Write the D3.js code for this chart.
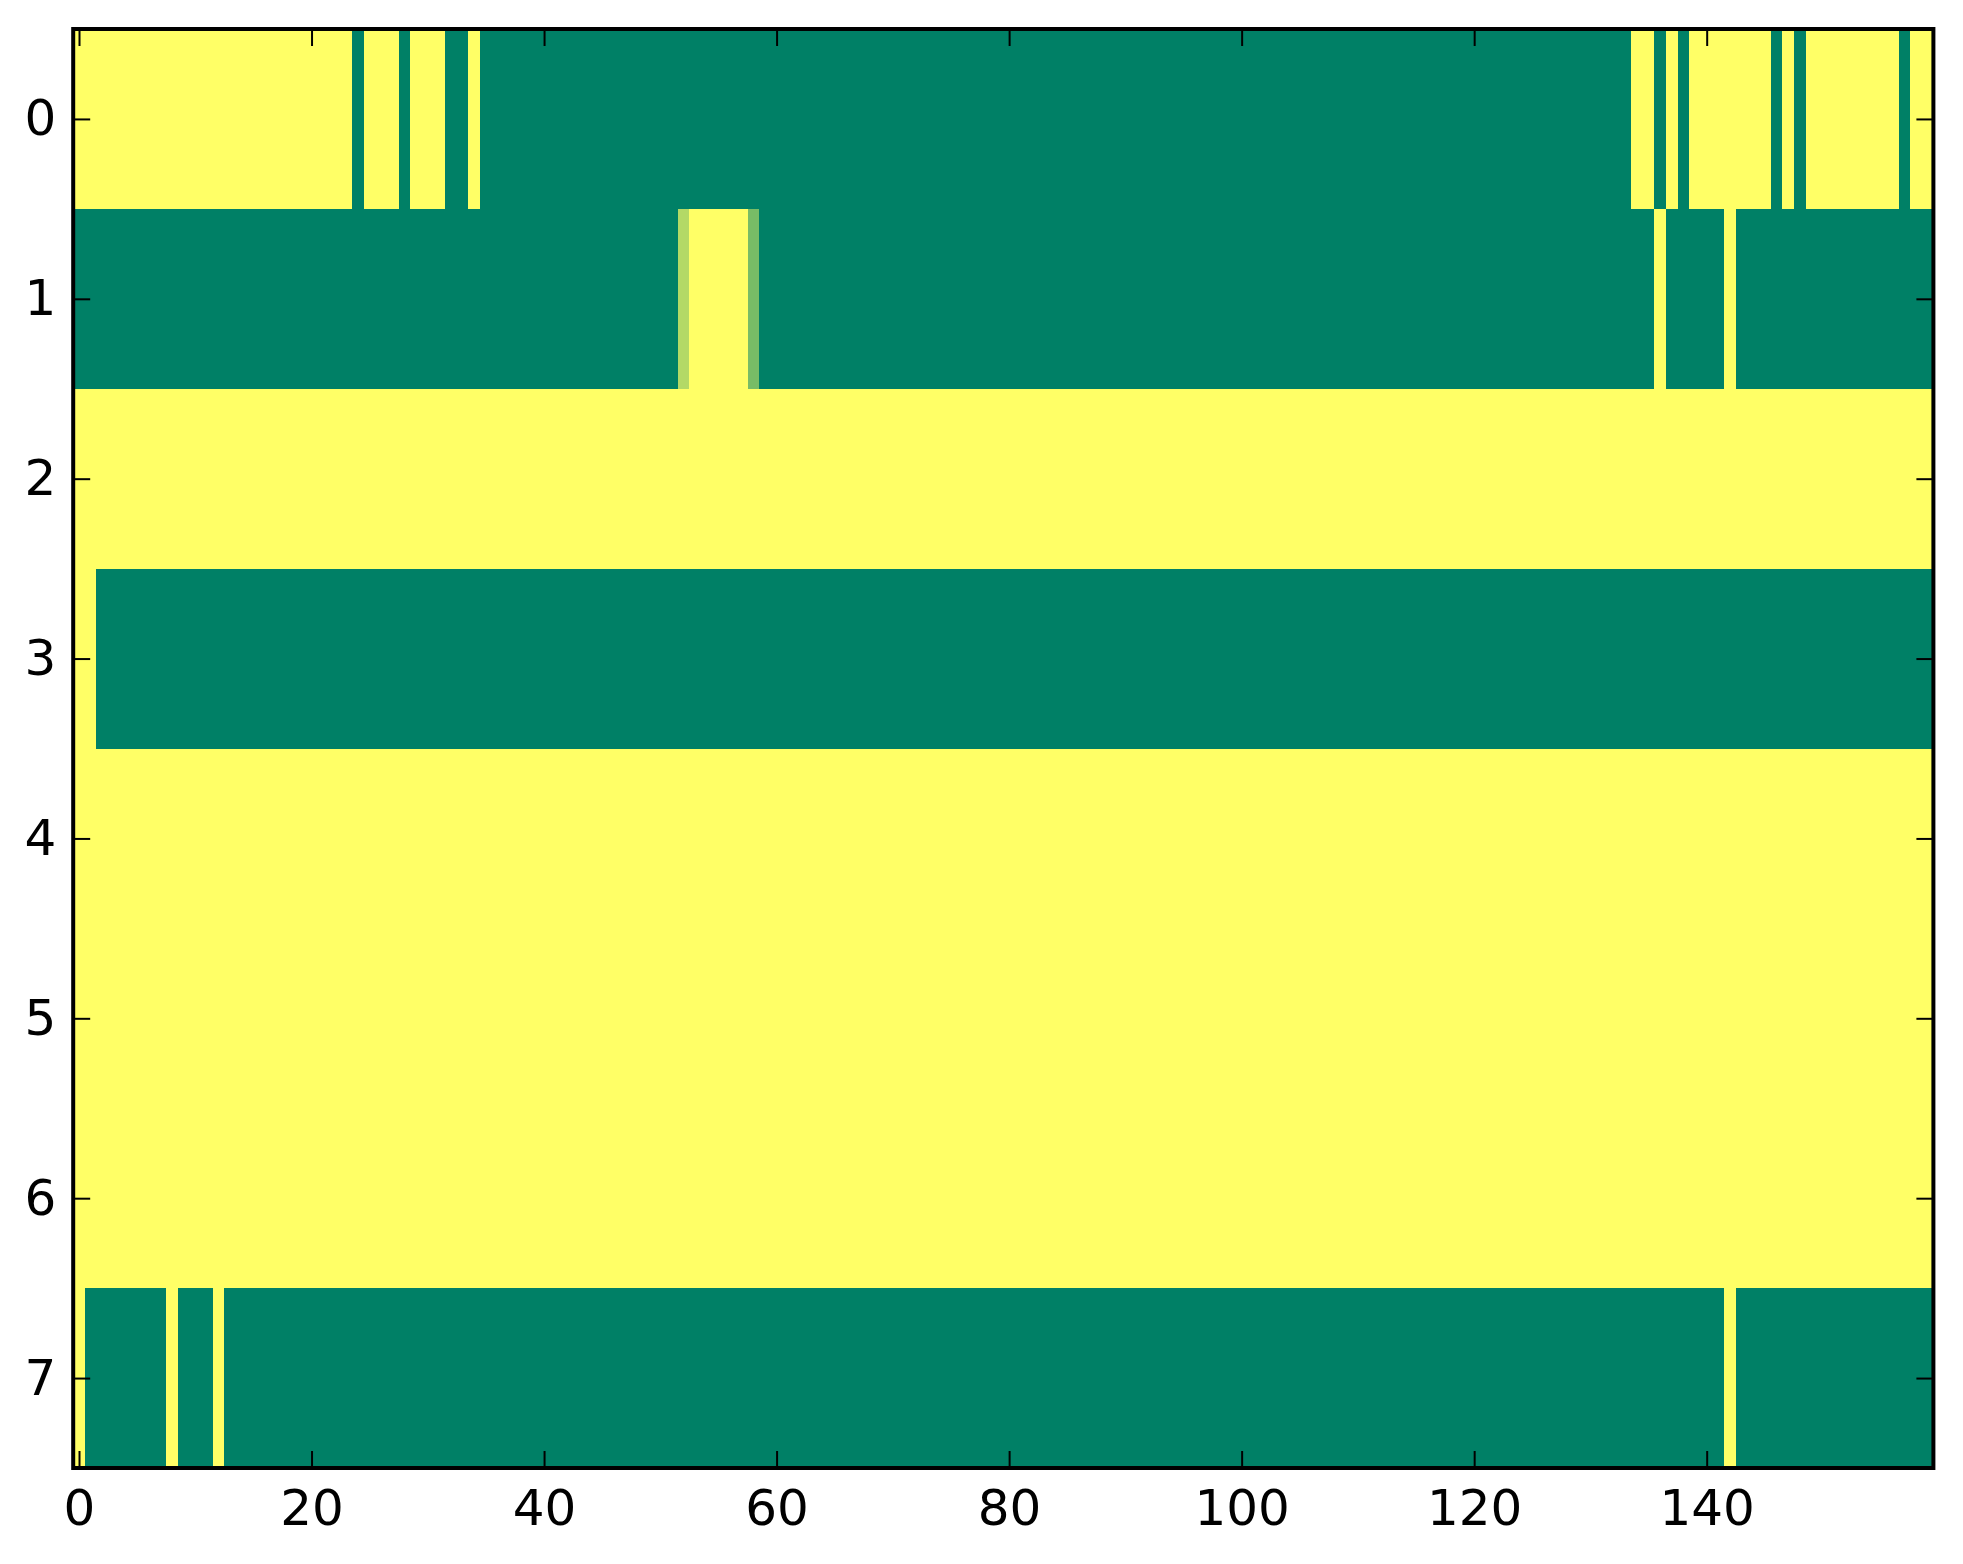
<!DOCTYPE html>
<html>
<head>
<meta charset="utf-8">
<script src="https://cdn.jsdelivr.net/npm/d3@7/dist/d3.min.js"></script>
<style>
  html, body { margin: 0; padding: 0; background: #ffffff; }
  svg { display: block; }
  text { font-family: "DejaVu Sans", sans-serif; }
</style>
</head>
<body>
<svg id="chart" width="1963" height="1564"></svg>
<script>
// Each row given as runs of [count, value] (value 0 = green, 1 = yellow), 160 columns total
const row0 = [[24,1],[1,0],[3,1],[1,0],[3,1],[2,0],[1,1],[99,0],[2,1],[1,0],[1,1],[1,0],[7,1],[1,0],[1,1],[1,0],[8,1],[1,0],[2,1]];
const row1 = [[52,0],[1,0.7],[5,1],[1,0.47],[77,0],[1,1],[5,0],[1,1],[17,0]];
const row2 = [[160,1]];
const row3 = [[2,1],[158,0]];
const row4 = [[160,1]];
const row5 = [[160,1]];
const row6 = [[160,1]];
const row7 = [[1,1],[7,0],[1,1],[3,0],[1,1],[129,0],[1,1],[17,0]];
const rows = [row0, row1, row2, row3, row4, row5, row6, row7];

const xTicks = [0, 20, 40, 60, 80, 100, 120, 140];
const yTicks = [0, 1, 2, 3, 4, 5, 6, 7];
const nCols = 160;
const colorStops = ["#008066", "#ffff66"]; // summer colormap ends

// expand runs into cells
const cells = [];
rows.forEach((runs, r) => {
  let c = 0;
  runs.forEach(([n, v]) => {
    for (let k = 0; k < n; k++) { cells.push({row: r, col: c, value: v}); c++; }
  });
});

const L = 73.2, R = 1933.4, T = 29, B = 1468;
const x = d3.scaleLinear().domain([-0.5, nCols - 0.5]).range([L, R]);
const y = d3.scaleLinear().domain([-0.5, rows.length - 0.5]).range([T, B]);
const color = d3.scaleLinear().domain([0, 1]).range(colorStops);

const svg = d3.select("#chart");

svg.append("g").selectAll("rect").data(cells).join("rect")
  .attr("x", d => x(d.col - 0.5))
  .attr("y", d => y(d.row - 0.5))
  .attr("width", d => x(d.col + 0.5) - x(d.col - 0.5))
  .attr("height", d => y(d.row + 0.5) - y(d.row - 0.5))
  .attr("fill", d => color(d.value))
  .attr("shape-rendering", "crispEdges");

const tickLen = 17, pad = 17, fs = 50;

// axes with inward ticks on all sides
const axB = d3.axisBottom(x).tickValues(xTicks).tickSizeInner(-tickLen).tickSizeOuter(0).tickPadding(pad);
const axT = d3.axisTop(x).tickValues(xTicks).tickSizeInner(-tickLen).tickSizeOuter(0).tickFormat("");
const axL = d3.axisLeft(y).tickValues(yTicks).tickSizeInner(-tickLen).tickSizeOuter(0).tickPadding(pad);
const axR = d3.axisRight(y).tickValues(yTicks).tickSizeInner(-tickLen).tickSizeOuter(0).tickFormat("");

function style(g) {
  g.select(".domain").remove();
  g.selectAll(".tick line").attr("stroke", "#000").attr("stroke-width", 2);
  g.selectAll(".tick text").attr("fill", "#000").attr("font-size", fs).attr("font-family", "DejaVu Sans");
}

const gB = svg.append("g").attr("transform", `translate(0,${B})`).call(axB).call(style);
gB.selectAll(".tick text").attr("dy", null).attr("y", 57);
const gT = svg.append("g").attr("transform", `translate(0,${T})`).call(axT).call(style);
const gL = svg.append("g").attr("transform", `translate(${L},0)`).call(axL).call(style);
gL.selectAll(".tick text").attr("dy", null).attr("y", 16);
const gR = svg.append("g").attr("transform", `translate(${R},0)`).call(axR).call(style);

// frame (spines)
svg.append("rect")
  .attr("x", L).attr("y", T)
  .attr("width", R - L).attr("height", B - T)
  .attr("fill", "none").attr("stroke", "#000").attr("stroke-width", 4);
</script>
</body>
</html>
